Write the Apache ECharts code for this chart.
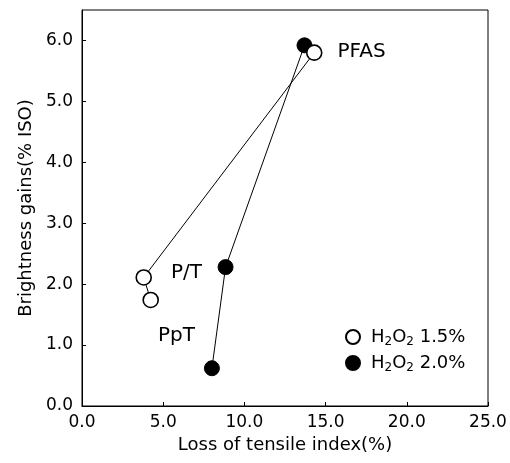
<!DOCTYPE html>
<html>
<head>
<meta charset="utf-8">
<script src="https://cdn.jsdelivr.net/npm/echarts@6/dist/echarts.min.js"></script>
<style>
  html, body { margin: 0; padding: 0; background: #fff; }
  #chart { width: 510px; height: 463px; }
</style>
</head>
<body>
<div id="chart"></div>
<script>
// Loss of tensile index (%) and brightness gain (% ISO) for each process stage
const stageNames = ['PpT', 'P/T', 'PFAS'];

const tensileLoss15 = [4.23, 3.80, 14.3];
const brightness15 = [1.74, 2.11, 5.80];

const tensileLoss20 = [8.0, 8.84, 13.7];
const brightness20 = [0.62, 2.28, 5.92];

const seriesNames = ['H2O2 1.5%', 'H2O2 2.0%'];

const FONT = 'DejaVu Sans';
const INK = '#000';

// Stage label placement next to the 1.5% points
const stageLabelOffsets = [[-6, 36], [14, -5], [10, -1]];

function pairs(xs, ys) {
  return xs.map((x, i) => [x, ys[i]]);
}

const openData = pairs(tensileLoss15, brightness15).map((p, i) => ({
  value: p,
  label: {
    show: true,
    position: 'right',
    offset: stageLabelOffsets[i],
    formatter: stageNames[i],
    fontFamily: FONT,
    fontSize: 20,
    color: INK
  }
}));

const chart = echarts.init(document.getElementById('chart'), null, { renderer: 'canvas' });

chart.setOption({
  animation: false,
  backgroundColor: '#fff',
  grid: {
    left: 82, right: 22, top: 10, bottom: 57,
    show: true, borderColor: INK, borderWidth: 1
  },
  legend: {
    orient: 'vertical',
    left: 340,
    top: 323,
    itemWidth: 26,
    itemHeight: 14,
    itemGap: 6,
    data: [
      { name: seriesNames[0], icon: 'circle' },
      { name: seriesNames[1], icon: 'circle' }
    ],
    formatter: function (name) {
      const pct = name.split(' ')[1];
      return '{t|H}{s|2}{t|O}{s|2}{t| ' + pct + '}';
    },
    textStyle: {
      color: INK,
      fontFamily: FONT,
      rich: {
        t: { fontFamily: FONT, fontSize: 18, lineHeight: 22, color: INK },
        s: { fontFamily: FONT, fontSize: 12, lineHeight: 12, verticalAlign: 'bottom', color: INK }
      }
    }
  },
  xAxis: {
    type: 'value',
    min: 0, max: 25, interval: 5,
    name: 'Loss of tensile index(%)',
    nameLocation: 'middle',
    nameGap: 26,
    nameTextStyle: { fontFamily: FONT, fontSize: 18, color: INK },
    axisLine: { show: true, lineStyle: { color: INK, width: 1 } },
    axisTick: { show: true, inside: true, length: 4, lineStyle: { color: INK } },
    axisLabel: {
      fontFamily: FONT, fontSize: 17, color: INK, margin: 8,
      formatter: v => v.toFixed(1)
    },
    splitLine: { show: false }
  },
  yAxis: {
    type: 'value',
    min: 0, max: 6.5, interval: 1,
    name: 'Brightness gains(% ISO)',
    nameLocation: 'middle',
    nameGap: 47,
    nameTextStyle: { fontFamily: FONT, fontSize: 18, color: INK },
    axisLine: { show: true, lineStyle: { color: INK, width: 1 } },
    axisTick: { show: true, inside: true, length: 4, lineStyle: { color: INK } },
    axisLabel: {
      fontFamily: FONT, fontSize: 17, color: INK, margin: 9,
      showMaxLabel: false,
      formatter: v => (Math.abs(v - Math.round(v)) < 1e-9 ? v.toFixed(1) : '')
    },
    splitLine: { show: false }
  },
  series: [
    {
      name: seriesNames[0],
      type: 'line',
      data: openData,
      symbol: 'circle',
      symbolSize: 15,
      showAllSymbol: true,
      lineStyle: { color: INK, width: 1 },
      itemStyle: { color: '#fff', borderColor: INK, borderWidth: 1.6 },
      z: 3
    },
    {
      name: seriesNames[1],
      type: 'line',
      data: pairs(tensileLoss20, brightness20),
      symbol: 'circle',
      symbolSize: 15,
      showAllSymbol: true,
      lineStyle: { color: INK, width: 1 },
      itemStyle: { color: INK, borderColor: INK, borderWidth: 1 },
      z: 2
    }
  ]
});
</script>
</body>
</html>
